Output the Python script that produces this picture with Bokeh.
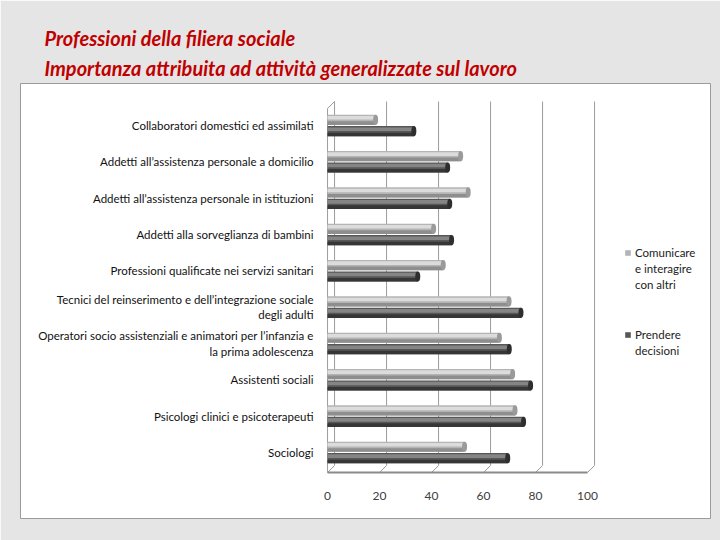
import numpy as np
from bokeh.plotting import figure
from bokeh.models import (Range1d, ColumnDataSource, Legend, LegendItem, Title, FixedTicker)
from bokeh.transform import dodge
from bokeh.embed import file_html
from bokeh.resources import INLINE

categories = [
    "Collaboratori domestici ed assimilati",
    "Addetti all\u2019assistenza personale a domicilio",
    "Addetti all\u2019assistenza personale in istituzioni",
    "Addetti alla sorveglianza di bambini",
    "Professioni qualificate nei servizi sanitari",
    "Tecnici del reinserimento e dell\u2019integrazione sociale\ndegli adulti",
    "Operatori socio assistenziali e animatori per l\u2019infanzia e\nla prima adolescenza",
    "Assistenti sociali",
    "Psicologi clinici e psicoterapeuti",
    "Sociologi",
]
comunicare = [18.5, 51.2, 54.1, 40.8, 44.5, 69.8, 66.1, 71.2, 72.1, 52.7]
decisioni = [33.2, 46.2, 47.0, 47.7, 34.7, 74.4, 69.9, 78.1, 75.4, 69.3]
x_ticks = [0, 20, 40, 60, 80, 100]
series1_lines = ["Comunicare", "e interagire", "con altri"]
series2_lines = ["Prendere", "decisioni"]
title_lines = ["Professioni della filiera sociale",
               "Importanza attribuita ad attivit\u00e0 generalizzate sul lavoro"]

FONT = "Lato"
LIGHT, LIGHT_HI, LIGHT_LO, LIGHT_CAP = "#b4b4b4", "#dcdcdc", "#8e8e8e", "#9a9a9a"
DARK, DARK_HI, DARK_LO, DARK_CAP = "#575757", "#858585", "#363636", "#2e2e2e"
GRID = "#9c9c9c"

n = len(categories)
ypos = (n - 1 - np.arange(n)).astype(float)   # first category at the top

p = figure(width=720, height=540, output_backend="svg", toolbar_location=None,
           x_range=Range1d(-118.1, 147.3), y_range=Range1d(-1.817, 10.156),
           min_border_left=20, min_border_right=10, min_border_top=83,
           min_border_bottom=22)
p.border_fill_color = "#e5e5e5"
p.background_fill_color = "white"
p.outline_line_color = "#9b9b9b"
p.outline_line_width = 1
p.xgrid.grid_line_color = None
p.ygrid.grid_line_color = None

# titles (first added sits closest to the chart)
for txt, so in zip(title_lines[::-1], [7, 1]):
    p.add_layout(Title(text=txt, align="left", offset=24, standoff=so,
                       text_font=FONT, text_font_style="bold italic",
                       text_font_size="20px", text_color="#c00000"), "above")

# 3D-like walls: back wall grid, floor edge, left wall edge
DX = 2.7            # back-wall shift (data units)
Y_FLOOR, Y_BACK_BOT, Y_TOP, Y_LEFT_TOP = -0.55, -0.36, 9.66, 9.47
xt = np.array(x_ticks, dtype=float)
p.segment(x0=xt + DX, y0=Y_BACK_BOT, x1=xt + DX, y1=Y_TOP, line_color=GRID, line_width=1)
p.segment(x0=xt + DX, y0=Y_BACK_BOT, x1=xt, y1=Y_FLOOR, line_color=GRID, line_width=1)
p.segment(x0=[xt[0]], y0=[Y_FLOOR], x1=[xt[-1]], y1=[Y_FLOOR], line_color="#8a8a8a", line_width=2)
p.segment(x0=[xt[0]], y0=[Y_FLOOR], x1=[xt[0]], y1=[Y_LEFT_TOP], line_color=GRID, line_width=1)
p.segment(x0=[xt[0]], y0=[Y_LEFT_TOP], x1=[xt[0] + DX], y1=[Y_TOP], line_color=GRID, line_width=1)

src = ColumnDataSource(dict(y=ypos, com=comunicare, dec=decisioni))
off, h = 0.157, 0.28


def cylinder(field, dy, base, hi, lo, cap):
    r = p.hbar(y=dodge("y", dy), left=0, right=field, height=h,
               fill_color=base, line_color=None, source=src)
    p.hbar(y=dodge("y", dy + 0.055), left=0, right=field, height=0.1,
           fill_color=hi, line_color=None, source=src)
    p.hbar(y=dodge("y", dy - 0.09), left=0, right=field, height=0.1,
           fill_color=lo, line_color=None, source=src)
    p.ellipse(x=field, y=dodge("y", dy), width=5, width_units="screen",
              height=h, fill_color=cap, line_color=None, source=src)
    return r


r1 = cylinder("com", off, LIGHT, LIGHT_HI, LIGHT_LO, LIGHT_CAP)
r2 = cylinder("dec", -off, DARK, DARK_HI, DARK_LO, DARK_CAP)
# invisible renderer used for the continuation lines of the legend labels
blank = p.hbar(y=[], left=[], right=[], height=h, fill_alpha=0, line_alpha=0)

# axes placed on the floor / left wall
p.xaxis.fixed_location = Y_FLOOR
p.xaxis.ticker = FixedTicker(ticks=x_ticks)
p.xaxis.axis_line_color = None
p.xaxis.major_tick_line_color = None
p.xaxis.minor_tick_line_color = None
p.xaxis.major_label_standoff = 14
p.xaxis.major_label_text_font = FONT
p.xaxis.major_label_text_font_size = "12px"
p.xaxis.major_label_text_color = "#404040"

p.yaxis.fixed_location = 0
p.yaxis.ticker = FixedTicker(ticks=list(ypos))
p.yaxis.major_label_overrides = {float(y): c for y, c in zip(ypos, categories)}
p.yaxis.axis_line_color = None
p.yaxis.major_tick_line_color = None
p.yaxis.minor_tick_line_color = None
p.yaxis.major_label_standoff = 8
p.yaxis.major_label_text_font = FONT
p.yaxis.major_label_text_font_size = "11.5px"
p.yaxis.major_label_text_color = "#111111"


def make_legend(lines, renderer, y):
    items = [LegendItem(label=t, renderers=[renderer if i == 0 else blank])
             for i, t in enumerate(lines)]
    lg = Legend(items=items, location=(604, y), orientation="vertical")
    lg.label_text_font = FONT
    lg.label_text_font_size = "11.5px"
    lg.label_text_color = "#222222"
    lg.label_height = 16
    lg.glyph_width = 7
    lg.glyph_height = 7
    lg.spacing = 0
    lg.border_line_color = None
    lg.background_fill_alpha = 0
    lg.margin = 0
    lg.padding = 0
    lg.label_standoff = 4
    p.add_layout(lg)


make_legend(series1_lines, r1, 226)
make_legend(series2_lines, r2, 160)

open("out.html", "w").write(file_html(p, INLINE))
